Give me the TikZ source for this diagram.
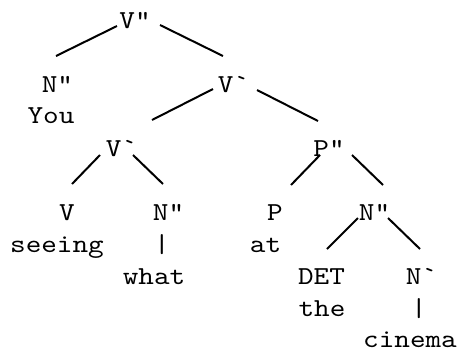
\documentclass[tikz,border=0pt]{standalone}
\usepackage{fontspec}
\newfontfamily\treefont{lmmono10-regular.otf}[FakeStretch=1.15]
\newcommand{\bq}{\symbol{96}}

\begin{document}
\begin{tikzpicture}[
    x=0.75pt, y=-0.75pt,
    cat/.style={font=\fontsize{19.4}{20}\selectfont\treefont, inner sep=0pt, anchor=base},
    word/.style={cat},
    branch/.style={line width=1.5pt}
]
\useasboundingbox (0,0) rectangle (461,351);

% categories
\node[cat] (vpp) at (135,28) {V"};
\node[cat] (npp1) at (57.5,92) {N"};
\node[cat] (vp1) at (233.5,92) {V\bq};
\node[cat] (vp2) at (121.5,156) {V\bq};
\node[cat] (ppp) at (329,156) {P"};
\node[cat] (v) at (67,220) {V};
\node[cat] (npp2) at (168.5,220) {N"};
\node[cat] (p) at (275,220) {P};
\node[cat] (npp3) at (374.5,220) {N"};
\node[cat] (det) at (321.5,284) {DET};
\node[cat] (np) at (421.5,284) {N\bq};

% words
\node[word] (you) at (51,123) {You};
\node[word] (seeing) at (57,252) {seeing};
\node[word] (bar1) at (162,252) {|};
\node[word] (what) at (154,284) {what};
\node[word] (at) at (265.5,252) {at};
\node[word] (the) at (322,316) {the};
\node[word] (bar2) at (419,316) {|};
\node[word] (cinema) at (410,347) {cinema};

% branches
\draw[branch] ([shift={(-18,-2)}]vpp.base) -- ([shift={(-1.5,-36)}]npp1.base);
\draw[branch] ([shift={(25,-3)}]vpp.base) -- ([shift={(-10.5,-36)}]vp1.base);
\draw[branch] ([shift={(-20.5,-3)}]vp1.base) -- ([shift={(30.5,-36)}]vp2.base);
\draw[branch] ([shift={(23.5,-2)}]vp1.base) -- ([shift={(-11,-35)}]ppp.base);
\draw[branch] ([shift={(-21.5,-1)}]vp2.base) -- ([shift={(5,-36)}]v.base);
\draw[branch] ([shift={(11.5,-1)}]vp2.base) -- ([shift={(-5.5,-36)}]npp2.base);
\draw[branch] ([shift={(-9,-1)}]ppp.base) -- ([shift={(16,-35)}]p.base);
\draw[branch] ([shift={(23,-1)}]ppp.base) -- ([shift={(8.5,-35)}]npp3.base);
\draw[branch] ([shift={(-16.5,-2)}]npp3.base) -- ([shift={(5.5,-35)}]det.base);
\draw[branch] ([shift={(13.5,-2)}]npp3.base) -- ([shift={(-1.5,-35)}]np.base);

\end{tikzpicture}
\end{document}
